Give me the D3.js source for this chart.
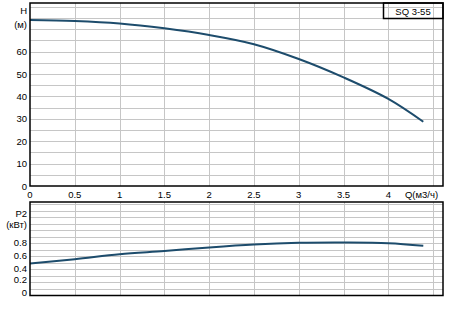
<!DOCTYPE html>
<html lang="ru">
<head>
<meta charset="UTF-8">
<title>SQ 3-55</title>
<script src="https://d3js.org/d3.v7.min.js"></script>
<style>
  body { margin: 0; background: #fff; }
  svg { display: block; font-family: "Liberation Sans", Arial, sans-serif; }
  .grid line { stroke: #c6c6c6; stroke-width: 1; }
  .lbl { font-size: 9.5px; fill: #000; }
  .frame { fill: none; stroke: #000; stroke-width: 1.5; }
  .curve { fill: none; stroke: #1d4c6c; stroke-width: 2; stroke-linejoin: round; }
</style>
</head>
<body>
<svg id="chart" width="456" height="332"></svg>
<script>
// Q axis
const qTicks = [0, 0.5, 1, 1.5, 2, 2.5, 3, 3.5, 4];
const qGrid = [0.5, 1, 1.5, 2, 2.5, 3, 3.5, 4, 4.5];

// H(Q) curve
const qH = [0, 0.5, 1, 1.5, 2, 2.5, 3, 3.5, 4, 4.39];
const hVals = [74.1, 73.7, 72.6, 70.4, 67.4, 63.3, 56.7, 48.5, 38.9, 28.7];
const hTicks = [0, 10, 20, 30, 40, 50, 60];

// P2(Q) curve
const qP = [0, 0.5, 1, 1.5, 2, 2.5, 3, 3.5, 4, 4.39];
const pVals = [0.49, 0.555, 0.63, 0.68, 0.735, 0.78, 0.805, 0.81, 0.80, 0.76];
const pTicks = [0, 0.2, 0.4, 0.6, 0.8];

const svg = d3.select("#chart");

const x = d3.scaleLinear().domain([0, 4.61]).range([30, 443]);
const yH = d3.scaleLinear().domain([0, 81.7]).range([186, 3]);
const yP = d3.scaleLinear().domain([0, 1.43]).range([295.5, 202]);

function panel(y, gridVals) {
  const g = svg.append("g").attr("class", "grid");
  g.selectAll("line.h").data(gridVals).join("line")
    .attr("class", "h")
    .attr("x1", x.range()[0]).attr("x2", x.range()[1])
    .attr("y1", d => Math.round(y(d)) + 0.5).attr("y2", d => Math.round(y(d)) + 0.5);
  g.selectAll("line.v").data(qGrid).join("line")
    .attr("class", "v")
    .attr("x1", d => Math.round(x(d)) + 0.5).attr("x2", d => Math.round(x(d)) + 0.5)
    .attr("y1", y.range()[0]).attr("y2", y.range()[1]);
}

panel(yH, d3.range(5, 81, 5));
panel(yP, d3.range(1, 15).map(i => i / 10));

// curves
const line = (xs, ys, y) => d3.line()
  .x((d, i) => x(xs[i]))
  .y(d => y(d))
  .curve(d3.curveCatmullRom)(ys);

svg.append("path").attr("class", "curve").attr("d", line(qH, hVals, yH));
svg.append("path").attr("class", "curve").attr("d", line(qP, pVals, yP));

// frames
svg.append("rect").attr("class", "frame")
  .attr("x", 30).attr("y", 3).attr("width", 413).attr("height", 183);
svg.append("rect").attr("class", "frame")
  .attr("x", 30).attr("y", 202).attr("width", 413).attr("height", 93.5);

// model box
svg.append("rect").attr("class", "frame").attr("stroke-width", 1)
  .attr("x", 383.5).attr("y", 3).attr("width", 59.5).attr("height", 15.5);
svg.append("text").attr("class", "lbl")
  .attr("x", 413).attr("y", 14.5).attr("text-anchor", "middle").text("SQ 3-55");

// x labels
svg.selectAll("text.xl").data(qTicks).join("text")
  .attr("class", "lbl xl")
  .attr("x", d => x(d)).attr("y", 197.5)
  .attr("text-anchor", "middle").text(d => d);
svg.append("text").attr("class", "lbl")
  .attr("x", 421.5).attr("y", 197.5).attr("text-anchor", "middle").text("Q(м3/ч)");

// H labels
svg.selectAll("text.hl").data(hTicks).join("text")
  .attr("class", "lbl hl")
  .attr("x", 27).attr("y", d => yH(d) + 3.5)
  .attr("text-anchor", "end").text(d => d);
svg.append("text").attr("class", "lbl").attr("x", 27).attr("y", 13.5)
  .attr("text-anchor", "end").text("H");
svg.append("text").attr("class", "lbl").attr("x", 27).attr("y", 28)
  .attr("text-anchor", "end").text("(м)");

// P2 labels
svg.selectAll("text.pl").data(pTicks).join("text")
  .attr("class", "lbl pl")
  .attr("x", 27).attr("y", d => (d === 0 ? yP(d) : d === 0.2 ? yP(d) + 1 : yP(d) + 2.5))
  .attr("text-anchor", "end").text(d => d);
svg.append("text").attr("class", "lbl").attr("x", 27).attr("y", 216.5)
  .attr("text-anchor", "end").text("P2");
svg.append("text").attr("class", "lbl").attr("x", 27).attr("y", 228)
  .attr("text-anchor", "end").text("(кВт)");
</script>
</body>
</html>
